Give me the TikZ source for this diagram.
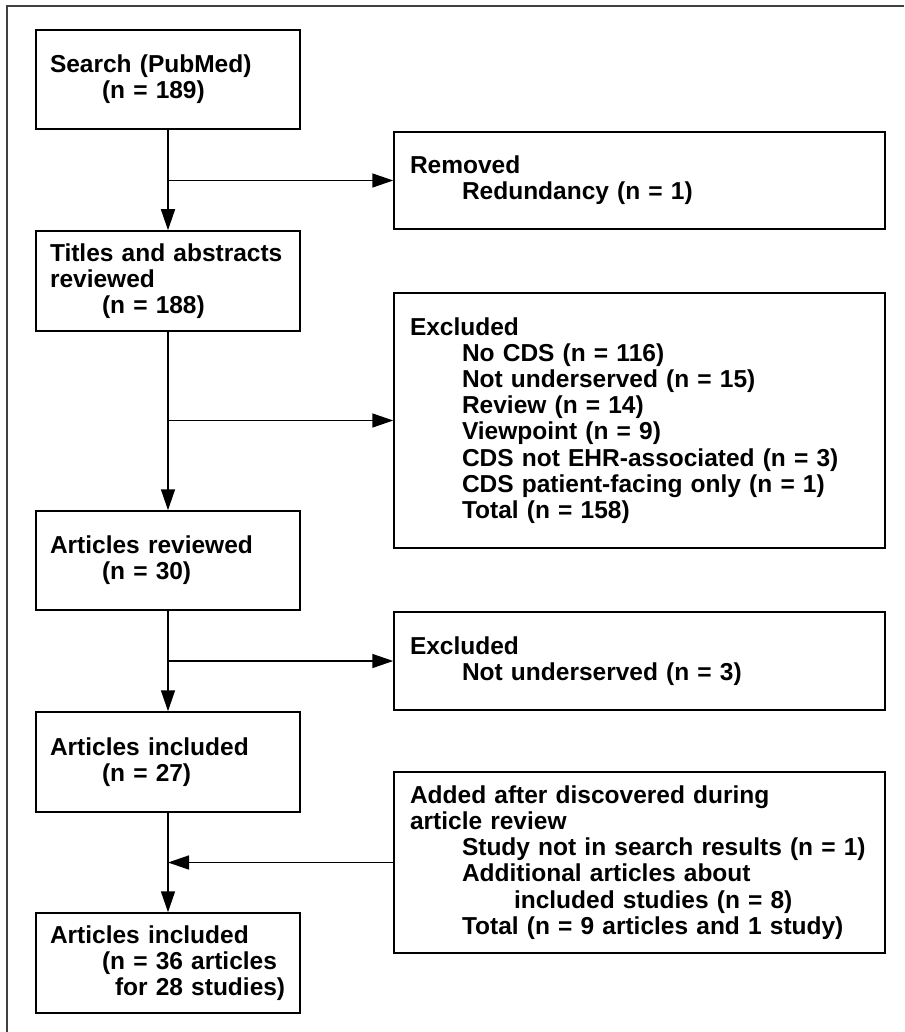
\documentclass[tikz,border=0pt]{standalone}
\usepackage{fontspec}
\setmainfont{Liberation Sans}
\usetikzlibrary{arrows.meta}
\usetikzlibrary{positioning}
\tikzstyle{stage} = [draw, line width=1.5pt, align=left, inner xsep=14pt,
text width=236pt, font=\bfseries\fontsize{24.5}{26.2}\selectfont]
\tikzstyle{side} = [stage, inner xsep=16pt, text width=459pt]
\tikzstyle{line} = [draw, line width=1.5pt, -{Triangle[length=21pt,width=14pt]}]

\begin{document}
\begin{tikzpicture}[x=1pt, y=-1pt]
	\useasboundingbox (0,0) rectangle (904,1032);
	\draw [black!75, line width=2pt] (7,1032) -- (7,6) -- (904,6);
	%% Main column
	\node [stage, minimum height=99pt] (search) at (168,79.5) {Search (PubMed)\\\hspace*{52pt}(n = 189)};
	\node [stage, minimum height=100pt] (titles) at (168,281) {Titles and abstracts\\reviewed\\\hspace*{52pt}(n = 188)};
	\node [stage, minimum height=99pt] (reviewed) at (168,560.5) {Articles reviewed\\\hspace*{52pt}(n = 30)};
	\node [stage, minimum height=100pt] (incl) at (168,762) {Articles included\\\hspace*{52pt}(n = 27)};
	\node [stage, minimum height=100pt] (final) at (168,963) {Articles included\\\hspace*{52pt}(n = 36 articles\\\hspace*{65pt}for 28 studies)};
	%% Side boxes
	\node [side, minimum height=97pt] (removed) at (639.5,180.5) {Removed\\\hspace*{52pt}Redundancy (n = 1)};
	\node [side, minimum height=255pt] (excl) at (639.5,420.5) {Excluded\\\hspace*{52pt}No CDS (n = 116)\\\hspace*{52pt}Not underserved (n = 15)\\\hspace*{52pt}Review (n = 14)\\\hspace*{52pt}Viewpoint (n = 9)\\\hspace*{52pt}CDS not EHR-associated (n = 3)\\\hspace*{52pt}CDS patient-facing only (n = 1)\\\hspace*{52pt}Total (n = 158)};
	\node [side, minimum height=98pt] (notund) at (639.5,661) {Excluded\\\hspace*{52pt}Not underserved (n = 3)};
	\node [side, minimum height=181pt] (added) at (639.5,862.5) {Added after discovered during\\article review\\\hspace*{52pt}Study not in search results (n = 1)\\\hspace*{52pt}Additional articles about\\\hspace*{104pt}included studies (n = 8)\\\hspace*{52pt}Total (n = 9 articles and 1 study)};
	%% Flows
	\path [line] (search.south) -- (titles.north);
	\path [line] (titles.south) -- (reviewed.north);
	\path [line] (reviewed.south) -- (incl.north);
	\path [line] (incl.south) -- (final.north);
	\path [line] (search.south |- removed.west) -- (removed.west);
	\path [line] (titles.south |- excl.west) -- (excl.west);
	\path [line] (reviewed.south |- notund.west) -- (notund.west);
	\path [line] (added.west) -- (incl.south |- added.west);
\end{tikzpicture}
\end{document}
